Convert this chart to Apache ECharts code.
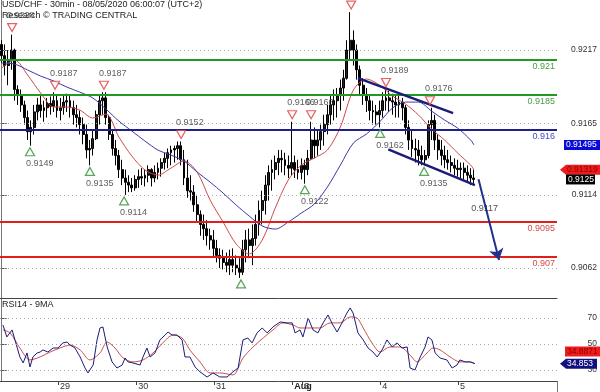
<!DOCTYPE html>
<html><head><meta charset="utf-8">
<script src="https://cdn.jsdelivr.net/npm/echarts@6/dist/echarts.min.js"></script>
<style>html,body{margin:0;padding:0;background:#fff}#c{width:600px;height:392px}</style>
</head><body><div id="c"></div>
<script>
const FONT = 'Liberation Sans, Arial, sans-serif';
// hourly bars (index 0 = first bar)
const opens = [0.9221,0.9213,0.9206,0.9210,0.9217,0.9189,0.9185,0.9178,0.9169,0.9159,
0.9162,0.9173,0.9178,0.9174,0.9176,0.9179,0.9177,0.9181,0.9174,0.9176,
0.9180,0.9181,0.9176,0.9171,0.9169,0.9164,0.9157,0.9146,0.9147,0.9154,
0.9171,0.9181,0.9183,0.9169,0.9157,0.9147,0.9142,0.9132,0.9126,0.9123,
0.9121,0.9119,0.9125,0.9127,0.9126,0.9128,0.9132,0.9126,0.9130,0.9133,
0.9137,0.9140,0.9144,0.9146,0.9147,0.9149,0.9139,0.9126,0.9117,0.9116,
0.9107,0.9100,0.9093,0.9090,0.9085,0.9082,0.9076,0.9071,0.9069,0.9066,
0.9064,0.9068,0.9064,0.9062,0.9059,0.9075,0.9082,0.9078,0.9083,0.9093,
0.9103,0.9110,0.9121,0.9130,0.9132,0.9137,0.9140,0.9139,0.9135,0.9133,
0.9137,0.9132,0.9130,0.9135,0.9132,0.9140,0.9153,0.9149,0.9153,0.9159,
0.9164,0.9171,0.9178,0.9181,0.9185,0.9190,0.9197,0.9217,0.9224,0.9217,
0.9203,0.9192,0.9185,0.9181,0.9174,0.9173,0.9171,0.9174,0.9181,0.9183,
0.9181,0.9180,0.9178,0.9180,0.9176,0.9162,0.9153,0.9147,0.9146,0.9142,
0.9139,0.9142,0.9164,0.9167,0.9153,0.9146,0.9142,0.9139,0.9137,0.9135,
0.9133,0.9132,0.9133,0.9130,0.9128,0.9126];
const highs = [0.9224,0.9221,0.9217,0.9228,0.9218,0.9192,0.9189,0.9181,0.9174,0.9167,
0.9178,0.9183,0.9185,0.9181,0.9183,0.9184,0.9187,0.9185,0.9183,0.9185,
0.9186,0.9185,0.9181,0.9178,0.9174,0.9169,0.9164,0.9153,0.9160,0.9174,
0.9185,0.9187,0.9187,0.9171,0.9160,0.9153,0.9146,0.9139,0.9132,0.9128,
0.9126,0.9128,0.9132,0.9133,0.9132,0.9135,0.9133,0.9135,0.9137,0.9140,
0.9144,0.9147,0.9149,0.9149,0.9152,0.9152,0.9146,0.9139,0.9128,0.9121,
0.9114,0.9103,0.9100,0.9096,0.9090,0.9089,0.9082,0.9076,0.9075,0.9073,
0.9075,0.9076,0.9071,0.9069,0.9082,0.9089,0.9090,0.9093,0.9100,0.9110,
0.9117,0.9128,0.9135,0.9139,0.9142,0.9146,0.9146,0.9144,0.9142,0.9166,
0.9142,0.9139,0.9140,0.9139,0.9146,0.9166,0.9162,0.9160,0.9164,0.9171,
0.9178,0.9185,0.9189,0.9190,0.9196,0.9203,0.9224,0.9244,0.9231,0.9221,
0.9206,0.9197,0.9190,0.9185,0.9181,0.9178,0.9181,0.9187,0.9189,0.9188,
0.9186,0.9185,0.9185,0.9183,0.9178,0.9167,0.9160,0.9154,0.9153,0.9149,
0.9146,0.9167,0.9176,0.9171,0.9157,0.9153,0.9149,0.9146,0.9142,0.9140,
0.9139,0.9137,0.9137,0.9135,0.9133,0.9132];
const lows = [0.9208,0.9199,0.9192,0.9203,0.9181,0.9178,0.9173,0.9164,0.9153,0.9149,
0.9157,0.9167,0.9169,0.9166,0.9169,0.9171,0.9173,0.9169,0.9167,0.9171,
0.9173,0.9169,0.9164,0.9162,0.9157,0.9150,0.9140,0.9135,0.9142,0.9153,
0.9164,0.9171,0.9164,0.9153,0.9142,0.9135,0.9126,0.9121,0.9114,0.9116,
0.9116,0.9117,0.9119,0.9121,0.9120,0.9123,0.9120,0.9123,0.9125,0.9127,
0.9132,0.9133,0.9135,0.9137,0.9139,0.9135,0.9121,0.9112,0.9110,0.9102,
0.9095,0.9085,0.9082,0.9078,0.9075,0.9070,0.9066,0.9062,0.9061,0.9059,
0.9057,0.9059,0.9057,0.9055,0.9057,0.9066,0.9069,0.9064,0.9078,0.9085,
0.9093,0.9100,0.9110,0.9117,0.9125,0.9128,0.9130,0.9128,0.9126,0.9128,
0.9126,0.9125,0.9125,0.9122,0.9128,0.9139,0.9140,0.9142,0.9146,0.9149,
0.9157,0.9164,0.9167,0.9169,0.9174,0.9181,0.9196,0.9210,0.9206,0.9196,
0.9185,0.9178,0.9173,0.9167,0.9164,0.9164,0.9162,0.9169,0.9174,0.9173,
0.9171,0.9169,0.9169,0.9167,0.9157,0.9146,0.9141,0.9137,0.9135,0.9135,
0.9135,0.9140,0.9153,0.9146,0.9139,0.9135,0.9133,0.9132,0.9130,0.9128,
0.9127,0.9126,0.9125,0.9123,0.9121,0.9122];
const closes = [0.9213,0.9206,0.9210,0.9217,0.9189,0.9185,0.9178,0.9169,0.9159,0.9162,
0.9173,0.9178,0.9174,0.9176,0.9179,0.9177,0.9181,0.9174,0.9176,0.9180,
0.9181,0.9176,0.9171,0.9169,0.9164,0.9157,0.9146,0.9147,0.9154,0.9171,
0.9181,0.9183,0.9169,0.9157,0.9147,0.9142,0.9132,0.9126,0.9123,0.9121,
0.9119,0.9125,0.9127,0.9126,0.9128,0.9132,0.9126,0.9130,0.9133,0.9137,
0.9140,0.9144,0.9146,0.9147,0.9149,0.9139,0.9126,0.9117,0.9116,0.9107,
0.9100,0.9093,0.9090,0.9085,0.9082,0.9076,0.9071,0.9069,0.9066,0.9064,
0.9068,0.9064,0.9062,0.9059,0.9075,0.9082,0.9078,0.9083,0.9093,0.9103,
0.9110,0.9121,0.9130,0.9132,0.9137,0.9140,0.9139,0.9135,0.9133,0.9137,
0.9132,0.9130,0.9135,0.9132,0.9140,0.9153,0.9149,0.9153,0.9159,0.9164,
0.9171,0.9178,0.9181,0.9185,0.9190,0.9197,0.9217,0.9224,0.9217,0.9203,
0.9192,0.9185,0.9181,0.9174,0.9173,0.9171,0.9174,0.9181,0.9183,0.9181,
0.9180,0.9178,0.9180,0.9176,0.9162,0.9153,0.9147,0.9146,0.9142,0.9139,
0.9142,0.9164,0.9167,0.9153,0.9146,0.9142,0.9139,0.9137,0.9135,0.9133,
0.9132,0.9133,0.9130,0.9128,0.9126,0.9125];

// moving averages read at these bar positions
const maIdx = [0,4,8,12,16,20,24,28,32,36,40,44,48,52,56,60,64,68,72,76,80,84,88,92,96,100,104,108,112,116,120,124,128,132,136,140,144,145];
const maRed = [0.92042,0.92099,0.91992,0.91864,0.91765,0.91765,0.91743,0.91687,0.91715,0.91551,0.91416,0.91317,0.91281,0.91331,0.91381,0.91303,0.91104,0.90947,0.90791,0.90720,0.90819,0.91047,0.91246,0.91352,0.91402,0.91459,0.91623,0.91886,0.91964,0.91921,0.91843,0.91786,0.91708,0.91608,0.91530,0.91438,0.91352,0.91319];
const maBlue = [0.92078,0.92070,0.92028,0.91985,0.91950,0.91907,0.91871,0.91829,0.91751,0.91665,0.91594,0.91523,0.91459,0.91423,0.91381,0.91303,0.91231,0.91153,0.91068,0.90990,0.90919,0.90897,0.90947,0.91011,0.91075,0.91196,0.91352,0.91509,0.91573,0.91658,0.91758,0.91800,0.91800,0.91736,0.91672,0.91615,0.91530,0.91495];

// RSI14 and its 9MA: [bar position, value]
const rsi14 = [[0.4,64.6],[1.6,55.4],[3.2,60.8],[4.1,53.1],[5.6,40],[6.6,35.4],[7.8,43.1],[8.7,32.3],[9.6,40],[10.9,43.1],[11.8,43.8],[12.7,45.4],[14.2,43.8],[15.8,46.9],[17.3,46.9],[18.8,50.8],[20.1,51.5],[21,49.2],[22.5,46.9],[24.1,40],[25.6,31.5],[26.5,27.7],[28.1,33.8],[29.3,53.1],[30.2,62.3],[31.1,63.1],[32.4,47.7],[33.9,36.2],[35.4,31.5],[37,33.8],[37.9,39.2],[38.8,36.2],[40.3,35.4],[42.5,33.8],[43.4,40],[44.6,46.9],[45.6,40],[47.1,43.1],[48.6,53.1],[50.2,56.9],[51.1,59.2],[52.3,56.9],[53.8,56.9],[55.4,53.1],[56.3,40],[57.8,40],[59.4,32.3],[60.9,28.5],[63.1,24.6],[64.9,27.7],[67,24.6],[69.2,24.6],[71,28.5],[72.6,31.5],[74.1,53.1],[75.6,54.6],[76.9,50.8],[78.4,58.5],[80,62.3],[81.5,58.5],[83.3,63.1],[85.5,66.9],[87.6,66.2],[89.2,66.2],[90.1,58.5],[91.6,60.8],[92.5,55.4],[94.1,70],[95.6,60.8],[97.1,58.5],[98.7,66.2],[100.2,72.3],[101.7,64.6],[103,59.2],[104.5,66.2],[106,73.8],[107,77.7],[107.9,73.8],[109.4,58.5],[111,53.1],[112.5,46.9],[114,43.8],[115.3,40],[116.8,45.4],[118.3,53.1],[119.9,47.7],[121.4,50.8],[122.9,46.9],[124.5,47.7],[125.4,31.5],[126.9,30],[128.5,40],[130,47.7],[130.9,55.4],[132.1,53.1],[133.1,43.1],[134.6,39.2],[136.7,37.7],[138.3,31.5],[139.8,33.8],[140.7,37.7],[142.3,36.2],[143.8,36.2],[145.3,34.853]];
const rsiMa = [[0.4,60.8],[2.6,58.5],[5.6,46.9],[8.7,37.7],[11.8,40],[14.9,43.8],[17.9,46.9],[21,49.2],[24.1,45.4],[27.1,37.7],[30.2,43.1],[32.4,51.5],[34.8,46.9],[37.3,39.2],[40.3,36.2],[43.4,37.7],[46.5,43.1],[49.5,50.8],[52.6,56.9],[55.4,54.6],[57.8,45.4],[60.9,36.2],[64,27.7],[67,27.7],[71,26.2],[74.1,39.2],[77.2,47.7],[80.3,54.6],[83.3,60.8],[86.4,66.2],[89.5,64.6],[91.6,62.3],[94.7,62.3],[97.7,62.3],[100.8,66.2],[103.9,66.2],[107,70.8],[109.1,70],[111,62.3],[113.7,50.8],[116.2,43.8],[119.2,47.7],[122.3,47.7],[125.4,41.5],[127.5,36.2],[130.6,43.1],[132.4,46.9],[134.6,45.4],[137.7,40],[140.7,36.2],[143.8,36.2],[145.3,34.8871]];

const dayIdx = [17.3, 41.3, 65.2, 89.2, 92.3, 116.2, 140.1];
const dayLabels = ['29','30','31','Aug','3','4','5'];
const priceTicks = [0.9217, 0.9165, 0.9114, 0.9062];
const rsiTicks = [30, 50, 70];
const resistances = [0.921, 0.9185];
const pivotsLvl = [0.916];
const supports = [0.9095, 0.907];
const pivotHighs = [[3.2,0.9228],[16.4,0.9187],[31.4,0.9187],[55.1,0.9152],[89.2,0.9166],[95.0,0.9166],[107.3,0.9244],[118.0,0.9189],[131.5,0.9176]];
const pivotLows = [[8.7,0.9149],[27.1,0.9135],[37.6,0.9114],[73.5,0.9055],[93.1,0.9122],[116.2,0.9162],[129.7,0.9135]];
const channelUpper = [[109.4,0.91971],[138.6,0.91722]];
const channelLower = [[118.7,0.91464],[145.3,0.91210]];
const forecast = [[146.4,0.91251],[152.7,0.90677]];
const target = [148.3, 0.9117];
const NCAT = 171;

const categories = Array.from({length: NCAT}, (_, i) => String(i));
const candles = opens.map((o, i) => [o, closes[i], lows[i], highs[i]]);

const chart = echarts.init(document.getElementById('c'), null, {renderer: 'canvas'});
const txt = (size, color) => ({fontSize: size, color: color, fontFamily: FONT, fontWeight: 'normal'});

const levelLine = (v, color, labelColor) => ({
  yAxis: v,
  lineStyle: {color: color, width: 2, type: 'solid'},
  label: {show: true, position: 'insideEndBottom', distance: 2, formatter: String(v), ...txt(9, labelColor)}
});

const option = {
  animation: false,
  backgroundColor: '#fff',
  title: [
    {text: 'USD/CHF - 30min - 08/05/2020 06:00:07 (UTC+2)', left: 2, top: 0, padding: 0, textStyle: txt(9, '#222')},
    {text: 'Research © TRADING CENTRAL', left: 2, top: 11, padding: 0, textStyle: txt(9, '#222')},
    {text: 'RSI14 - 9MA', left: 2, top: 300, padding: 0, textStyle: txt(9, '#222')}
  ],
  grid: [
    {left: 0, top: 0, width: 557, height: 298},
    {left: 0, top: 299, width: 557, height: 82}
  ],
  xAxis: [
    {type: 'category', gridIndex: 0, data: categories, boundaryGap: true,
     axisLine: {show: true, lineStyle: {color: '#444', width: 1}}, axisTick: {show: false}, axisLabel: {show: false}, splitLine: {show: false}},
    {type: 'value', gridIndex: 0, min: -0.5, max: NCAT - 0.5, show: false},
    {type: 'value', gridIndex: 1, min: -0.5, max: NCAT - 0.5,
     axisLine: {show: true, lineStyle: {color: '#444', width: 1}},
     axisTick: {show: true, customValues: dayIdx, length: 4, lineStyle: {color: '#444'}},
     axisLabel: {show: true, customValues: dayIdx, align: 'left', margin: 1, padding: [0, 0, 0, 2], ...txt(9, '#333'),
       formatter: v => { let k = dayIdx.findIndex(d => Math.abs(d - v) < 0.01); if (k < 0) return ''; return dayLabels[k] === 'Aug' ? '{b|Aug}' : dayLabels[k]; },
       rich: {b: {fontWeight: 'bold', fontSize: 9, fontFamily: FONT, color: '#222'}}},
     splitLine: {show: false}}
  ],
  yAxis: [
    {type: 'value', gridIndex: 0, position: 'right', min: 0.90407, max: 0.92526, scale: true,
     axisLine: {show: true, lineStyle: {color: '#777'}},
     axisTick: {show: true, customValues: priceTicks, length: 5, lineStyle: {color: '#555'}},
     axisLabel: {show: true, customValues: priceTicks, align: 'right', margin: 40, formatter: v => v.toFixed(4), ...txt(8.5, '#333')},
     splitLine: {show: false}},
    {type: 'value', gridIndex: 1, position: 'right', min: 21.5, max: 84.6,
     axisLine: {show: true, lineStyle: {color: '#777'}},
     axisTick: {show: true, customValues: rsiTicks, length: 5, lineStyle: {color: '#555'}},
     axisLabel: {show: true, customValues: rsiTicks, align: 'right', margin: 40, formatter: v => String(v), ...txt(8.5, '#333')},
     splitLine: {show: false}}
  ],
  series: [
    {type: 'line', xAxisIndex: 1, yAxisIndex: 0, data: [], z: 1, silent: true,
     markLine: {silent: true, symbol: 'none', animation: false, precision: 6,
       data: priceTicks.map(v => ({yAxis: v, lineStyle: {type: [1, 3], color: '#aaa', width: 1}, label: {show: false}}))}},
    {type: 'line', xAxisIndex: 1, yAxisIndex: 0, data: [], z: 1, silent: true,
     markLine: {silent: true, symbol: 'none', animation: false, precision: 6,
       data: [
         ...resistances.map(v => levelLine(v, '#229922', '#44a044')),
         ...pivotsLvl.map(v => levelLine(v, '#1e1e8e', '#4848c8')),
         ...supports.map(v => levelLine(v, '#e01e1e', '#d84848'))
       ]}},
    {type: 'candlestick', xAxisIndex: 0, yAxisIndex: 0, data: candles, barWidth: 2.4, z: 3,
     itemStyle: {color: '#222222', color0: '#000000', borderColor: '#000000', borderColor0: '#000000', borderWidth: 1}},
    {type: 'line', xAxisIndex: 1, yAxisIndex: 0, data: maIdx.map((x, i) => [x, maRed[i]]), smooth: 0.3,
     showSymbol: false, lineStyle: {color: '#d04a4a', width: 1}, z: 4},
    {type: 'line', xAxisIndex: 1, yAxisIndex: 0, data: maIdx.map((x, i) => [x, maBlue[i]]), smooth: 0.3,
     showSymbol: false, lineStyle: {color: '#3a3aa8', width: 1}, z: 4},
    {type: 'lines', coordinateSystem: 'cartesian2d', xAxisIndex: 1, yAxisIndex: 0, z: 5,
     data: [{coords: channelUpper}, {coords: channelLower}],
     lineStyle: {color: '#1c1c78', width: 2.5, opacity: 1}},
    {type: 'lines', coordinateSystem: 'cartesian2d', xAxisIndex: 1, yAxisIndex: 0, z: 5,
     data: [{coords: forecast}], symbol: ['none', 'arrow'], symbolSize: 11,
     lineStyle: {color: '#22308e', width: 2, opacity: 1}},
    {type: 'scatter', xAxisIndex: 1, yAxisIndex: 0, z: 6, data: pivotHighs,
     symbol: 'path://M0,0L10,0L5,9Z', symbolSize: [9, 8], symbolOffset: [0, -7],
     itemStyle: {color: '#ffffff', borderColor: '#e03a3a', borderWidth: 1.2},
     label: {show: true, position: 'top', align: 'left', offset: [-5, 0], distance: 3,
       formatter: p => p.value[1].toFixed(4), ...txt(9, '#333')}},
    {type: 'scatter', xAxisIndex: 1, yAxisIndex: 0, z: 6, data: pivotLows,
     symbol: 'path://M5,0L10,9L0,9Z', symbolSize: [9, 8], symbolOffset: [0, 6],
     itemStyle: {color: '#ffffff', borderColor: '#2f8f2f', borderWidth: 1.2},
     label: {show: true, position: 'bottom', align: 'left', offset: [-4, 0], distance: 3,
       formatter: p => (p.value[1] < 0.906 ? '' : p.value[1].toFixed(4)), ...txt(9, '#333')}},
    {type: 'scatter', xAxisIndex: 1, yAxisIndex: 0, z: 6, data: [target], symbolSize: 0,
     label: {show: true, position: 'bottom', distance: 13, formatter: p => p.value[1].toFixed(4), ...txt(9, '#222')}},
    {type: 'line', xAxisIndex: 2, yAxisIndex: 1, data: [], z: 1, silent: true,
     markLine: {silent: true, symbol: 'none', animation: false, precision: 3,
       data: rsiTicks.map(v => ({yAxis: v, lineStyle: {type: [1, 3], color: '#aaa', width: 1}, label: {show: false}}))}},
    {type: 'line', xAxisIndex: 2, yAxisIndex: 1, data: rsiMa, smooth: 0.3, showSymbol: false,
     lineStyle: {color: '#c85050', width: 1}, z: 3},
    {type: 'line', xAxisIndex: 2, yAxisIndex: 1, data: rsi14, showSymbol: false,
     lineStyle: {color: '#1b1b78', width: 1}, z: 4}
  ]
};
chart.setOption(option);

function tagEls(y, text, bg, fg, x0, x1, arrow) {
  const h = 5;
  const pts = arrow ? [[x0, y], [x0 + 6, y - h], [x1, y - h], [x1, y + h], [x0 + 6, y + h]]
                    : [[x0, y - h], [x1, y - h], [x1, y + h], [x0, y + h]];
  return [
    {type: 'polygon', shape: {points: pts}, style: {fill: bg}, z: 100},
    {type: 'text', x: arrow ? x0 + 7 : x0 + 2, y: y, z: 101,
     style: {text: text, fill: fg, font: '8.5px ' + FONT, verticalAlign: 'middle', align: 'left'}}
  ];
}
const py = v => chart.convertToPixel({yAxisIndex: 0}, v);
const ry = v => chart.convertToPixel({yAxisIndex: 1}, v);
const lastBlue = maBlue[maBlue.length - 1], lastRed = maRed[maRed.length - 1], lastClose = closes[closes.length - 1];
const lastRsi = rsi14[rsi14.length - 1][1], lastRsiMa = rsiMa[rsiMa.length - 1][1];
chart.setOption({graphic: [
  {type: 'line', shape: {x1: 557.5, y1: 381, x2: 557.5, y2: 392}, style: {stroke: '#777', lineWidth: 1}},
  ...tagEls(py(lastBlue), lastBlue.toFixed(5), '#0a0ad8', '#ffffff', 564, 600, false),
  ...tagEls(py(lastRed), lastRed.toFixed(5), '#ee1c1c', '#8a0000', 560, 600, true),
  ...tagEls(py(lastClose), lastClose.toFixed(4), '#000000', '#ffffff', 566, 595, false),
  ...tagEls(ry(lastRsiMa) - 12, lastRsiMa.toFixed(4), '#ee1c1c', '#8a0000', 565, 600, false),
  ...tagEls(ry(lastRsi), lastRsi.toFixed(3), '#101080', '#ffffff', 560, 597, true)
]});
</script>
</body></html>
